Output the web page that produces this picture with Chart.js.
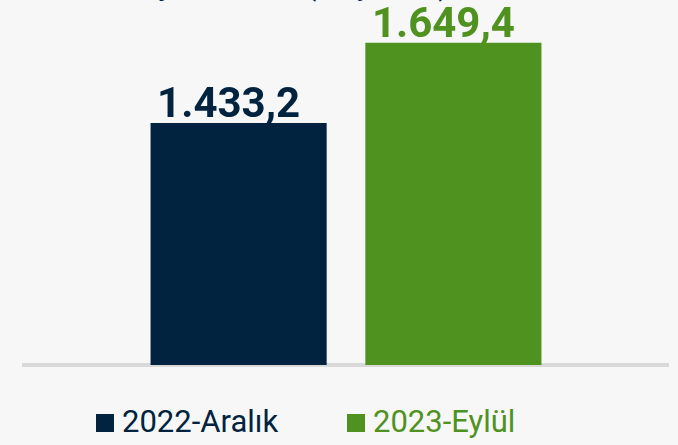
<!DOCTYPE html>
<html>
<head>
<meta charset="utf-8">
<script src="https://cdn.jsdelivr.net/npm/chart.js@4"></script>
<style>
  html, body { margin: 0; padding: 0; background: #f7f7f7; }
  body { width: 678px; height: 445px; position: relative; overflow: hidden; font-family: Roboto, sans-serif; }
  #wrap { position: absolute; left: 0; top: 0; width: 678px; height: 380px; }
  .title { position: absolute; top: -30px; line-height: 30px; font-size: 30px; color: #012340; white-space: nowrap; }
  .legend-item { position: absolute; top: 404px; height: 36px; line-height: 36px; font-size: 31px; white-space: nowrap; }
  .legend-item .box { position: absolute; left: 0; top: 10px; width: 18px; height: 18px; }
  .legend-item .txt { position: absolute; left: 26px; top: 0; }
</style>
</head>
<body>
<div class="title" style="left:90px;font-weight:bold">Özkaynaklar</div>
<div class="title" style="left:306px">(Milyar TL)</div>
<div id="wrap"><canvas id="chart"></canvas></div>
<div id="legend"></div>
<script>
const categories = ['']
const seriesNames = ['2022-Aralık', '2023-Eylül']
const seriesValues = [1433.2, 1649.4]
const seriesColors = ['#012340', '#4f921f']

const fmt = (v) => {
  const [int, dec] = v.toFixed(1).split('.')
  return int.replace(/\B(?=(\d{3})+(?!\d))/g, '.') + ',' + dec
}

const valueLabels = {
  id: 'valueLabels',
  afterDatasetsDraw(chart) {
    const ctx = chart.ctx
    ctx.save()
    ctx.font = 'bold 42px Roboto, sans-serif'
    ctx.textAlign = 'center'
    ctx.textBaseline = 'alphabetic'
    chart.data.datasets.forEach((ds, i) => {
      const el = chart.getDatasetMeta(i).data[0]
      ctx.fillStyle = seriesColors[i]
      ctx.fillText(fmt(ds.data[0]), el.x - 10, el.y - 6)
    })
    ctx.restore()
  },
}

new Chart(document.getElementById('chart'), {
  type: 'bar',
  data: {
    labels: categories,
    datasets: seriesNames.map((name, i) => ({
      label: name,
      data: [seriesValues[i]],
      backgroundColor: seriesColors[i],
      categoryPercentage: 0.667,
      barPercentage: 0.82,
    })),
  },
  options: {
    responsive: true,
    maintainAspectRatio: false,
    animation: false,
    layout: { padding: { left: 24, right: 10, top: 0, bottom: 7 } },
    scales: {
      x: {
        grid: { display: false },
        border: { display: true, color: '#d9d9d9', width: 4 },
        ticks: { display: false },
      },
      y: {
        display: false,
        min: 780,
        max: 1765,
      },
    },
    plugins: {
      legend: { display: false },
      tooltip: { enabled: false },
    },
  },
  plugins: [valueLabels],
})

// legend
const legendLeft = [96, 347]
const legend = document.getElementById('legend')
seriesNames.forEach((name, i) => {
  const item = document.createElement('div')
  item.className = 'legend-item'
  item.style.left = legendLeft[i] + 'px'
  item.style.color = seriesColors[i]
  item.innerHTML = `<span class="box" style="background:${seriesColors[i]}"></span><span class="txt">${name}</span>`
  legend.appendChild(item)
})
</script>
</body>
</html>
